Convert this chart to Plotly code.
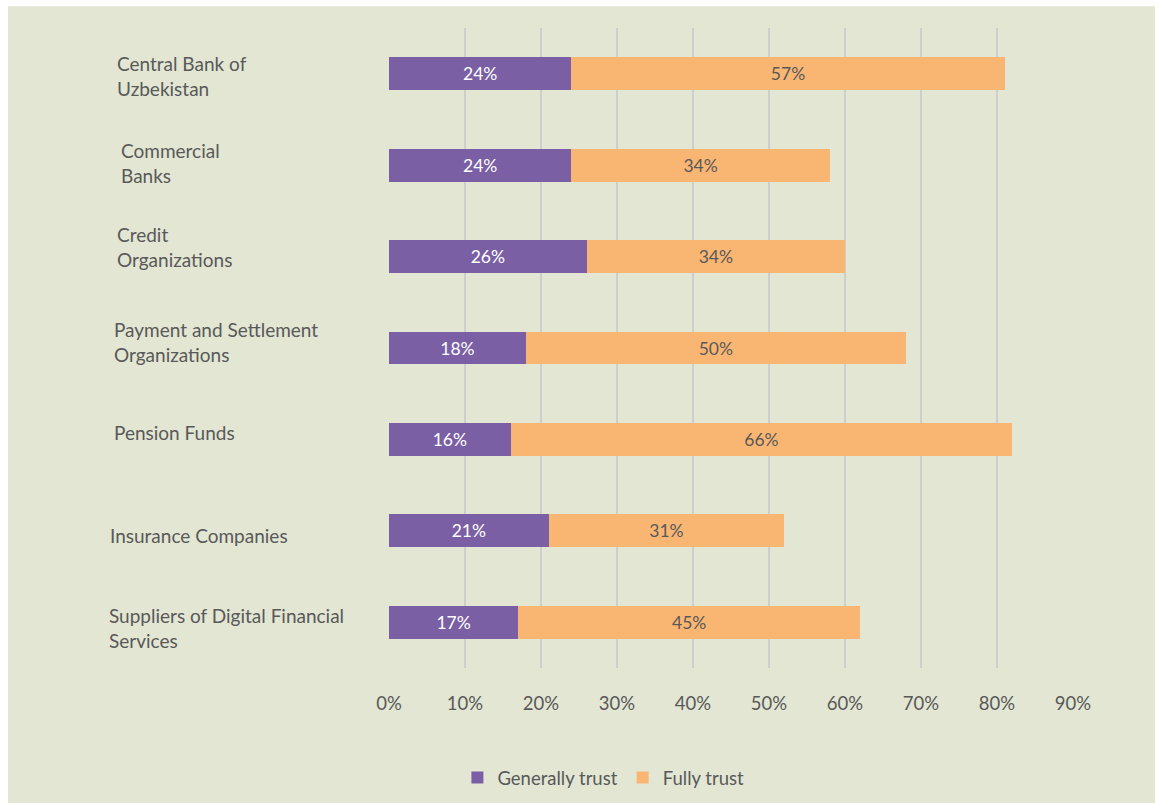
import plotly.graph_objects as go

# Survey: trust in financial institutions (% of respondents)
institutions = [
    "Central Bank of Uzbekistan",
    "Commercial Banks",
    "Credit Organizations",
    "Payment and Settlement Organizations",
    "Pension Funds",
    "Insurance Companies",
    "Suppliers of Digital Financial Services",
]
label_text = [
    "Central Bank of<br>Uzbekistan",
    "Commercial<br>Banks",
    "Credit<br>Organizations",
    "Payment and Settlement<br>Organizations",
    "Pension Funds",
    "Insurance Companies",
    "Suppliers of Digital Financial<br>Services",
]
generally_trust = [24, 24, 26, 18, 16, 21, 17]
fully_trust = [57, 34, 34, 50, 66, 31, 45]
tick_values = [0, 10, 20, 30, 40, 50, 60, 70, 80, 90]
tick_labels = ["0%", "10%", "20%", "30%", "40%", "50%", "60%", "70%", "80%", "90%"]

# category label placement (paper x, vertical shift in px)
label_x = [-0.401, -0.395, -0.401, -0.405, -0.405, -0.411, -0.412]
label_shift = [-2, 2, 10, 6, 7, -5, -6]

PURPLE = "#7a5fa5"
ORANGE = "#f9b673"
BG = "#e2e6d3"
TEXT = "#595959"
FONT = "Lato, 'Open Sans', sans-serif"

fig = go.Figure()
fig.add_trace(go.Bar(
    y=institutions, x=generally_trust, orientation="h",
    name="Generally trust", marker=dict(color=PURPLE, line_width=0),
    text=[f"{v}%" for v in generally_trust], texttemplate="%{text}",
    textposition="inside", insidetextanchor="middle",
    textfont=dict(color="white", size=17.5, family=FONT),
))
fig.add_trace(go.Bar(
    y=institutions, x=fully_trust, orientation="h",
    name="Fully trust", marker=dict(color=ORANGE, line_width=0),
    text=[f"{v}%" for v in fully_trust], texttemplate="%{text}",
    textposition="inside", insidetextanchor="middle",
    textfont=dict(color=TEXT, size=17.5, family=FONT),
))

for name, text, lx, ls in zip(institutions, label_text, label_x, label_shift):
    fig.add_annotation(
        x=lx, xref="paper", y=name, yref="y", yshift=ls,
        text=text, showarrow=False, xanchor="left", yanchor="middle",
        align="left", font=dict(size=19, color=TEXT, family=FONT),
    )

# light green panel, white strip along the top and left edges
fig.add_shape(
    type="rect", xref="paper", yref="paper",
    x0=-0.557, x1=1.15, y0=-0.25, y1=1.034,
    fillcolor=BG, line_width=0, layer="below",
)

fig.update_layout(
    width=1155, height=803,
    margin=dict(l=389, r=82, t=28, b=135, autoexpand=False),
    paper_bgcolor="white", plot_bgcolor="rgba(0,0,0,0)",
    barmode="stack", bargap=0.64,
    font=dict(family=FONT, color=TEXT, size=18),
    showlegend=True,
    legend=dict(
        orientation="h", x=0.1, xanchor="left", y=-0.172, yanchor="middle",
        font=dict(size=18.5, color=TEXT, family=FONT),
        bgcolor="rgba(0,0,0,0)", itemwidth=30, traceorder="normal",
    ),
    xaxis=dict(
        range=[0, 90], tickvals=tick_values, ticktext=tick_labels,
        showgrid=False, zeroline=False, showline=False,
        ticks="", ticklabelstandoff=22,
        tickfont=dict(size=18.5, color=TEXT, family=FONT),
        minor=dict(tickmode="array", tickvals=tick_values[1:], showgrid=True,
                   gridcolor="#cdcfcb", gridwidth=2),
    ),
    yaxis=dict(
        categoryorder="array", categoryarray=institutions,
        autorange="reversed", showticklabels=False, showgrid=False,
        zeroline=False, ticks="",
    ),
)

fig.write_html("out.html")
